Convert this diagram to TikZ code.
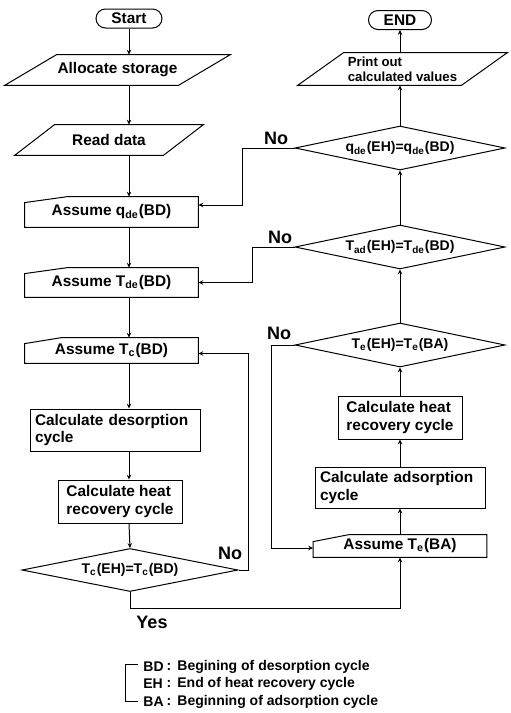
\documentclass[tikz,border=0pt]{standalone}
\usepackage{fontspec}
\setmainfont{Liberation Sans}
\usetikzlibrary{shapes.geometric,arrows.meta,calc}
\newcommand{\sbs}[1]{\textsubscript{#1}}
\begin{document}
\begin{tikzpicture}[x=0.5pt,y=-0.5pt,
  every node/.style={font=\bfseries\fontsize{7.7}{8.6}\selectfont},
  ln/.style={line width=0.5pt},
  arr/.style={ln,-{Stealth[length=2.4pt,width=2.2pt]}},
  term/.style={draw,ln,rounded corners=4.75pt,minimum width=33pt,minimum height=9.5pt,inner sep=0pt},
  bbox/.style={inner sep=0pt},
  proc/.style={draw,ln,inner sep=0pt,align=left},
  dec/.style={draw,ln,diamond,aspect=4.8,inner sep=0pt,minimum width=105pt,minimum height=22pt,font=\bfseries\fontsize{7}{8}\selectfont},
  lbl/.style={inner sep=0pt,font=\bfseries\fontsize{9}{10}\selectfont},
  leg/.style={font=\bfseries\fontsize{7}{8}\selectfont, inner sep=0pt, anchor=west}
]
\useasboundingbox (0,0) rectangle (510,713);

% ---------- left column ----------
\node[term] (start) at (129,18.5) {Start};

\node[bbox,minimum width=112.5pt,minimum height=15pt] (alloc) at (117.5,70) {Allocate storage};
\draw[ln] ($(alloc.north west)+(52,0)$) -- (alloc.north east) -- ($(alloc.south east)+(-52,0)$) -- (alloc.south west) -- cycle;

\node[bbox,minimum width=94pt,minimum height=15pt] (rd) at (109,140) {Read data};
\draw[ln] ($(rd.north west)+(40,0)$) -- (rd.north east) -- ($(rd.south east)+(-40,0)$) -- (rd.south west) -- cycle;

\node[bbox,minimum width=86.5pt,minimum height=15pt] (aq) at (111.5,212) {Assume q\sbs{de}(BD)};
\draw[ln] ($(aq.north west)+(0,6)$) -- ($(aq.north west)+(43,0)$) -- (aq.north east) -- (aq.south east) -- (aq.south west) -- cycle;

\node[bbox,minimum width=86.5pt,minimum height=14.5pt] (at) at (111.5,282.5) {Assume T\sbs{de}(BD)};
\draw[ln] ($(at.north west)+(0,6)$) -- ($(at.north west)+(43,0)$) -- (at.north east) -- (at.south east) -- (at.south west) -- cycle;

\node[bbox,minimum width=86.5pt,minimum height=12.5pt] (ac) at (111.5,350.5) {Assume T\sbs{c}(BD)};
\draw[ln] ($(ac.north west)+(0,6)$) -- ($(ac.north west)+(37,0)$) -- (ac.north east) -- (ac.south east) -- (ac.south west) -- cycle;

\node[proc,inner xsep=2.5pt,text width=80pt,minimum height=21pt] (cd) at (115,430) {Calculate desorption\\cycle};
\node[proc,minimum width=62pt,minimum height=21.5pt] (hl) at (120,501.5) {Calculate heat\\recovery cycle};

\node[dec,minimum width=108pt,minimum height=21.5pt] (dc) at (130,570) {T\sbs{c}(EH)=T\sbs{c}(BD)};

% ---------- right column ----------
\node[term,minimum width=31.5pt] (en) at (400,20) {END};

\node[bbox,minimum width=104.5pt,minimum height=16pt,align=left,font=\bfseries\fontsize{6.6}{7.6}\selectfont] (pr) at (402.5,69) {Print out\\calculated values};
\draw[ln] ($(pr.north west)+(46,0)$) -- (pr.north east) -- ($(pr.south east)+(-46,0)$) -- (pr.south west) -- cycle;

\node[dec] (dq) at (400,148) {q\sbs{de}(EH)=q\sbs{de}(BD)};
\node[dec] (dt) at (400,247) {T\sbs{ad}(EH)=T\sbs{de}(BD)};
\node[dec] (de) at (400,345) {T\sbs{e}(EH)=T\sbs{e}(BA)};

\node[proc,minimum width=62pt,minimum height=21.5pt] (hr) at (400,417.5) {Calculate heat\\recovery cycle};
\node[proc,inner xsep=2.5pt,text width=80pt,minimum height=20.5pt] (ca) at (400,487.5) {Calculate adsorption\\cycle};

\node[bbox,minimum width=86.5pt,minimum height=11pt] (ae) at (400,546) {Assume T\sbs{e}(BA)};
\draw[ln] ($(ae.north west)+(0,7)$) -- ($(ae.north west)+(36,0)$) -- (ae.north east) -- (ae.south east) -- (ae.south west) -- cycle;

% ---------- connectors, left ----------
\draw[arr] (start.south) -- (start.south |- alloc.north);
\draw[arr] (start.south |- alloc.south) -- (start.south |- rd.north);
\draw[arr] (start.south |- rd.south) -- (start.south |- aq.north);
\draw[arr] (start.south |- aq.south) -- (start.south |- at.north);
\draw[arr] (start.south |- at.south) -- (start.south |- ac.north);
\draw[arr] (start.south |- ac.south) -- (start.south |- cd.north);
\draw[arr] (start.south |- cd.south) -- (start.south |- hl.north);
\draw[arr] (start.south |- hl.south) -- (dc.north);

% ---------- connectors, right ----------
\draw[arr] (ae.north) -- (ca.south);
\draw[arr] (ca.north) -- (hr.south);
\draw[arr] (hr.north) -- (de.south);
\draw[arr] (de.north) -- (dt.south);
\draw[arr] (dt.north) -- (dq.south);
\draw[arr] (dq.north) -- (dq.north |- pr.south);
\draw[arr] (dq.north |- pr.north) -- (en.south);

% ---------- feedback loops ----------
\draw[arr] (dq.west) -| ($(aq.east)+(44,-7)$) -- ($(aq.east)+(0,-7)$);
\draw[arr] (dt.west) -| ($(at.east)+(54,0)$) -- (at.east);
\draw[arr] (de.west) -| ($(ae.west)+(-42,2)$) -- ($(ae.west)+(0,2)$);
\draw[arr] (dc.east) -| ($(ac.east)+(50,3)$) -- ($(ac.east)+(0,3)$);
\draw[arr] (dc.south) -- ++(0,16) -| (ae.south);

% ---------- labels ----------
\node[lbl] (no1) at (276,138) {No};
\node[lbl] (no2) at (280,237) {No};
\node[lbl] (no3) at (279,333) {No};
\node[lbl] (no4) at (230,553) {No};
\node[lbl] (yes) at (152,622) {Yes};

% ---------- legend ----------
\draw[line width=0.5pt] (138,664) -- (125,664) -- (125,701) -- (138,701);
\node[leg] (kbd) at (143,667) {BD};
\node[leg] (keh) at (143,684) {EH};
\node[leg] (kba) at (143,702) {BA};
\node[leg,anchor=center] (c1) at (169,667) {:};
\node[leg,anchor=center] (c2) at (169,684) {:};
\node[leg,anchor=center] (c3) at (169,702) {:};
\node[leg] (t1) at (177,667) {Begining of desorption cycle};
\node[leg] (t2) at (177,684) {End of heat recovery cycle};
\node[leg] (t3) at (177,702) {Beginning of adsorption cycle};
\end{tikzpicture}
\end{document}
